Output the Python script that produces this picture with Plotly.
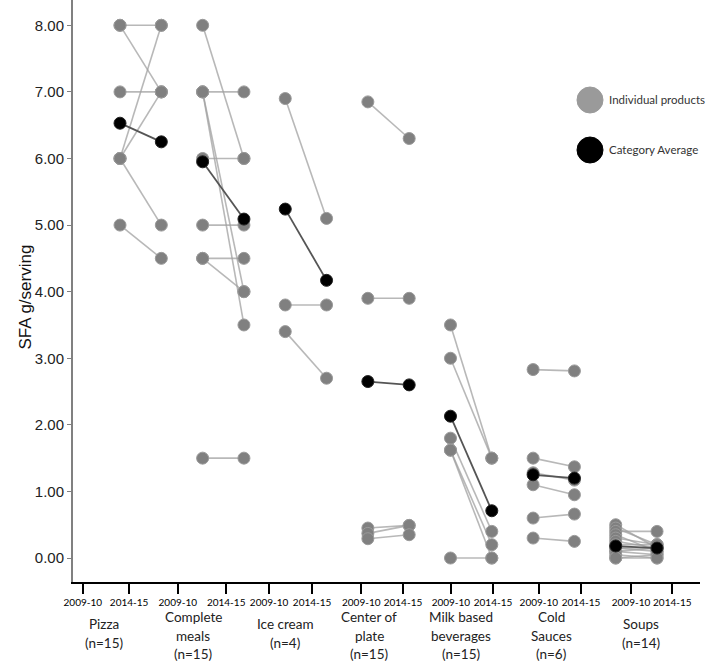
import plotly.graph_objects as go

# ---------------- data ----------------
categories = ["Pizza<br>(n=15)", "Complete<br>meals<br>(n=15)", "Ice cream<br>(n=4)",
              "Center of<br>plate<br>(n=15)", "Milk based<br>beverages<br>(n=15)",
              "Cold<br>Sauces<br>(n=6)", "Soups<br>(n=14)"]

pizza_0910 = [8.0, 8.0, 7.0, 6.0, 6.0, 6.0, 5.0]
pizza_1415 = [8.0, 7.0, 7.0, 8.0, 7.0, 5.0, 4.5]
meals_0910 = [8.0, 7.0, 7.0, 7.0, 6.0, 5.0, 4.5, 4.5, 1.5]
meals_1415 = [6.0, 7.0, 4.0, 3.5, 6.0, 5.0, 4.5, 4.0, 1.5]
icecream_0910 = [6.9, 3.8, 3.4]
icecream_1415 = [5.1, 3.8, 2.7]
plate_0910 = [6.85, 3.9, 0.45, 0.37, 0.29]
plate_1415 = [6.3, 3.9, 0.49, 0.49, 0.35]
milk_0910 = [3.5, 3.0, 1.8, 1.62, 1.62, 0.0]
milk_1415 = [1.5, 1.5, 0.4, 0.2, 0.0, 0.0]
sauces_0910 = [2.83, 1.5, 1.28, 1.1, 0.6, 0.3]
sauces_1415 = [2.81, 1.37, 1.17, 0.95, 0.66, 0.25]
soups_0910 = [0.5, 0.45, 0.4, 0.35, 0.3, 0.25, 0.2, 0.15, 0.15, 0.1, 0.1, 0.05, 0.0, 0.0]
soups_1415 = [0.15, 0.2, 0.4, 0.1, 0.2, 0.15, 0.2, 0.15, 0.1, 0.05, 0.15, 0.0, 0.05, 0.0]

avg_0910 = [6.53, 5.95, 5.24, 2.65, 2.13, 1.25, 0.18]
avg_1415 = [6.25, 5.09, 4.17, 2.60, 0.71, 1.20, 0.15]

tick_positions = [-0.90, 0.22, 1.40, 2.57, 3.61, 4.65, 5.84, 6.85, 8.01, 9.03, 10.14, 11.16, 12.37, 13.37]
tick_labels = ["2009-10", "2014-15"] * 7
label_positions = [-0.39, 1.77, 4.0, 6.03, 8.26, 10.44, 12.62]
y_ticks = [0, 1, 2, 3, 4, 5, 6, 7, 8]

individual = [(pizza_0910, pizza_1415), (meals_0910, meals_1415), (icecream_0910, icecream_1415),
              (plate_0910, plate_1415), (milk_0910, milk_1415), (sauces_0910, sauces_1415),
              (soups_0910, soups_1415)]

# ---------------- figure ----------------
fig = go.Figure()

GRAY_PT = "#808080"
for i, (a, b) in enumerate(individual):
    xs, ys = [], []
    for v0, v1 in zip(a, b):
        xs += [2 * i, 2 * i + 1, None]
        ys += [v0, v1, None]
    fig.add_trace(go.Scatter(x=xs, y=ys, mode="lines",
                             line=dict(color="rgba(160,160,160,0.75)", width=1.6),
                             hoverinfo="skip", showlegend=False))

for i, (a, b) in enumerate(individual):
    fig.add_trace(go.Scatter(x=[2 * i] * len(a) + [2 * i + 1] * len(b), y=a + b, mode="markers",
                             marker=dict(color=GRAY_PT, size=12, line=dict(color="#9a9a9a", width=1)),
                             showlegend=False))

for i, (v0, v1) in enumerate(zip(avg_0910, avg_1415)):
    fig.add_trace(go.Scatter(x=[2 * i, 2 * i + 1], y=[v0, v1], mode="lines+markers",
                             line=dict(color="#555555", width=1.8),
                             marker=dict(color="black", size=12, line=dict(color="#222", width=1)),
                             showlegend=False))

# pixel -> paper helpers (plot area spans x 73..700, y 0..582)
PW, PH, L = 627.0, 582.0, 73.0
def px(xp):
    return (xp - L) / PW
def py(yp):
    return (PH - yp) / PH

# category labels (one annotation per line for exact spacing)
for pos, lab in zip(label_positions, categories):
    lines = lab.split("<br>")
    ys = [617, 636, 654] if len(lines) == 3 else [624, 643]
    for ln, yy in zip(lines, ys):
        fig.add_annotation(x=pos, y=py(yy), xref="x", yref="paper", text=ln, showarrow=False,
                           xanchor="center", yanchor="middle",
                           font=dict(family="Lato", size=13.5, color="#222"))

# y-axis title
fig.add_annotation(x=px(13), y=py(297), xref="paper", yref="paper", text="SFA g/serving",
                   showarrow=False, textangle=-90,
                   font=dict(family="Liberation Sans", size=17, color="#111"))

# legend (drawn manually)
for cy, col, txt in [(100, "#9a9a9a", "Individual products"), (150, "#000000", "Category Average")]:
    fig.add_shape(type="circle", xref="paper", yref="paper",
                  x0=px(577), x1=px(603), y0=py(cy + 13), y1=py(cy - 13),
                  fillcolor=col, line=dict(color=col, width=1))
    fig.add_annotation(x=px(607), y=py(cy), xref="paper", yref="paper", text=txt, showarrow=False,
                       xanchor="left", yanchor="middle",
                       font=dict(family="Lato", size=11.5, color="#333"))

fig.update_layout(
    width=708, height=663,
    margin=dict(l=73, r=8, t=0, b=81),
    plot_bgcolor="white", paper_bgcolor="white",
    showlegend=False,
    xaxis=dict(range=[-1.138, 14.04], showline=True, linecolor="black", linewidth=2,
               ticks="outside", ticklen=10, tickwidth=2, tickcolor="black",
               tickvals=tick_positions, ticktext=tick_labels, showgrid=False, zeroline=False,
               tickfont=dict(family="Lato", size=10, color="black")),
    yaxis=dict(range=[-0.36, 8.38], showline=True, linecolor="#808080", linewidth=2,
               ticks="outside", ticklen=4, tickcolor="#808080", tickvals=y_ticks,
               tickformat=".2f", showgrid=False, zeroline=False,
               tickfont=dict(family="Liberation Sans", size=15, color="#222")),
)

fig.write_html("out.html", config={"displayModeBar": False},
               post_script="document.body.style.margin='0';")
